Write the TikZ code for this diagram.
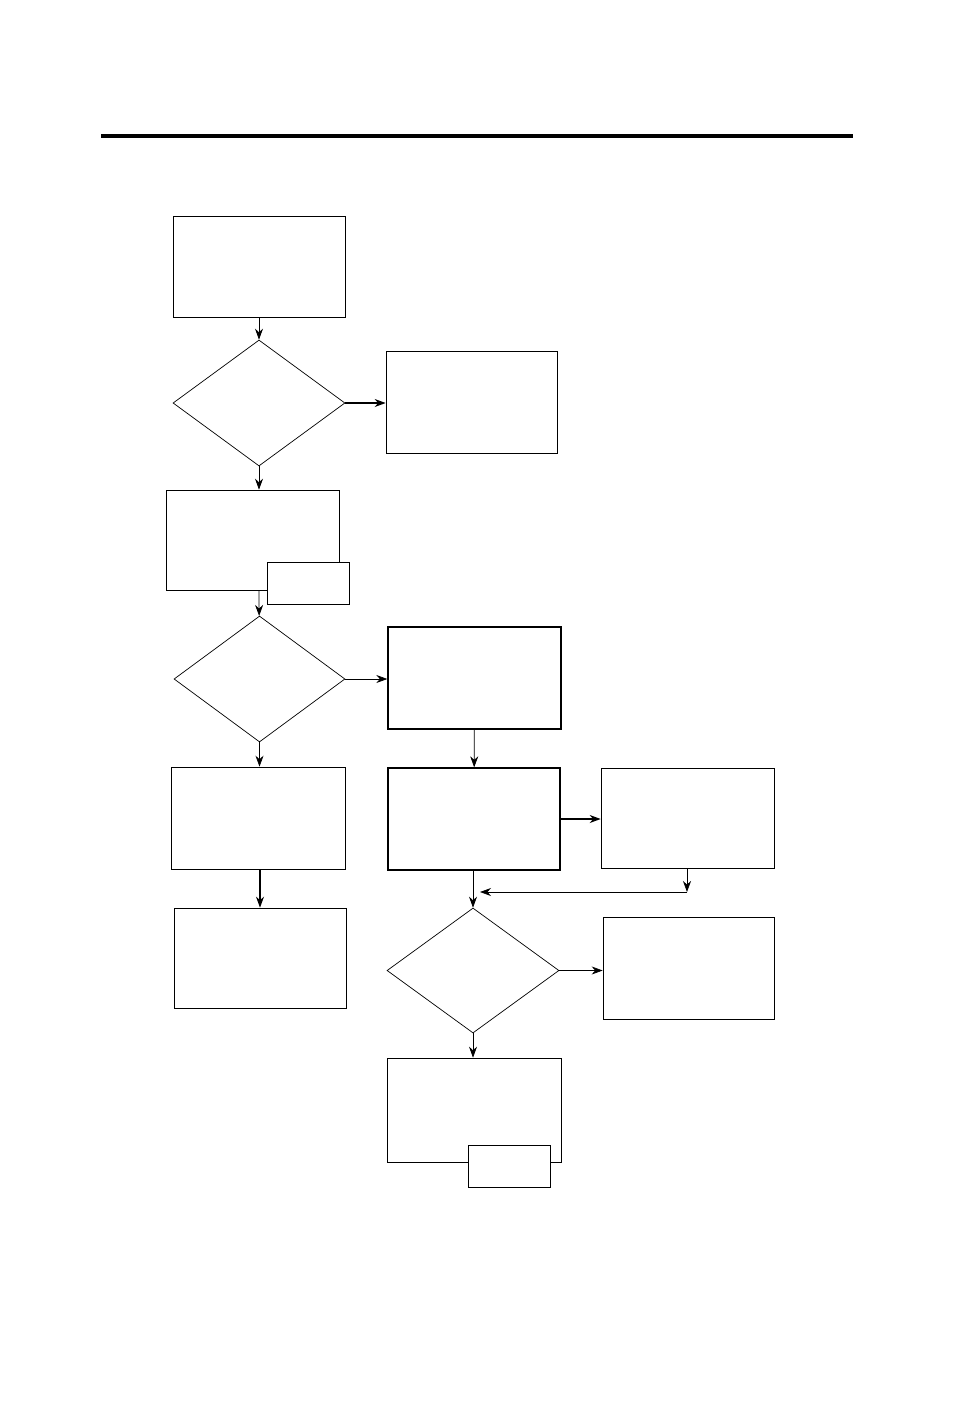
\documentclass[tikz,border=0pt]{standalone}
\usetikzlibrary{arrows.meta, positioning, shapes.geometric}
\begin{document}
\begin{tikzpicture}[x=0.02cm, y=-0.02cm]
    \tikzstyle{block} = [rectangle, draw, inner sep=0pt]
    \tikzstyle{decision} = [diamond, draw, inner sep=0pt]
    \tikzstyle{line} = [draw, -{Stealth[length=2.2mm, width=1.6mm]}]
    \useasboundingbox (0,0) rectangle (954,1406);

    % top rule
    \draw[line width=1mm] (101,136) -- (853,136);

    % left column
    \node[block, minimum width=3.44cm, minimum height=2.02cm] (start) at (259,266.5) {};
    \node[decision, minimum width=3.44cm, minimum height=2.52cm] (check) at (259,403) {};
    \node[block, minimum width=3.42cm, minimum height=2.04cm] (stop) at (471.5,402) {};
    \node[block, minimum width=3.46cm, minimum height=2cm] (prep) at (252.5,540) {};
    \node[block, fill=white, minimum width=1.64cm, minimum height=0.84cm] (prepnote) at (308,583) {};
    \node[decision, minimum width=3.42cm, minimum height=2.52cm] (test) at (259.5,679) {};
    \node[block, minimum width=3.48cm, minimum height=2.04cm] (pass) at (258,818) {};
    \node[block, minimum width=3.44cm, minimum height=2cm] (done) at (260,958) {};

    % right columns
    \node[block, thick, minimum width=3.46cm, minimum height=2.04cm] (fail) at (474.5,678) {};
    \node[block, thick, minimum width=3.44cm, minimum height=2.04cm] (repair) at (474,819) {};
    \node[block, minimum width=3.46cm, minimum height=2cm] (retest) at (687.5,818) {};
    \node[decision, minimum width=3.44cm, minimum height=2.5cm] (verify) at (473,970.5) {};
    \node[block, minimum width=3.42cm, minimum height=2.04cm] (reject) at (688.5,968) {};
    \node[block, minimum width=3.48cm, minimum height=2.08cm] (finish) at (474,1110) {};
    \node[block, fill=white, minimum width=1.64cm, minimum height=0.84cm] (finishnote) at (509,1166) {};

    \coordinate (turn) at (687,892);
    \coordinate (merge) at (473,892);

    % arrows
    \path [line] (start.south -| check) -- (check);
    \path [line, thick] (check) -- (check -| stop.west);
    \path [line] (check) -- (check |- prep.north);
    \path [line] (259,590) -- (test);
    \path [line] (test) -- (test -| fail.west);
    \path [line] (test) -- (test |- pass.north);
    \path [line, thick] (pass.south -| 260,0) -- (done);
    \path [line] (fail) -- (repair);
    \path [line, thick] (repair) -- (repair -| retest.west);
    \path [line] (repair.south -| merge) -- (verify);
    \path [line] (retest.south -| turn) -- (turn);
    \path [line] (turn) -- (480,892);
    \path [line] (verify) -- (verify -| reject.west);
    \path [line] (verify) -- (verify |- finish.north);
\end{tikzpicture}
\end{document}
